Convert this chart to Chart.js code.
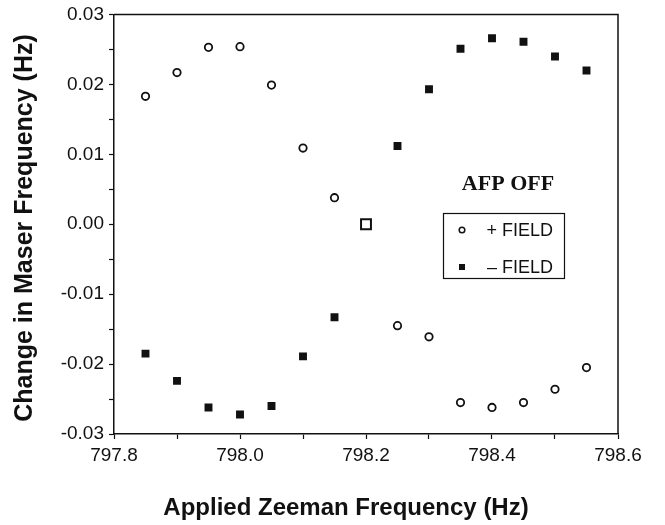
<!DOCTYPE html>
<html>
<head>
<meta charset="utf-8">
<script src="https://cdn.jsdelivr.net/npm/chart.js@4"></script>
<style>
  body { margin: 0; background: #fff; }
  #wrap { width: 665px; height: 525px; }
</style>
</head>
<body>
<div id="wrap"><canvas id="maserChart" width="665" height="525"></canvas></div>
<script>
// Applied Zeeman frequency (Hz) for each measurement
const zeemanHz = [797.85, 797.90, 797.95, 798.00, 798.05, 798.10, 798.15, 798.20,
                  798.25, 798.30, 798.35, 798.40, 798.45, 798.50, 798.55];
// Change in maser frequency (Hz), + field
const plusField = [0.0183, 0.0217, 0.0253, 0.0254, 0.0199, 0.0109, 0.0038, 0.0000,
                   -0.0145, -0.0161, -0.0255, -0.0262, -0.0255, -0.0236, -0.0205];
// Change in maser frequency (Hz), - field
const minusField = [-0.0185, -0.0224, -0.0262, -0.0272, -0.0260, -0.0189, -0.0133, 0.0000,
                    0.0112, 0.0193, 0.0251, 0.0266, 0.0261, 0.0240, 0.0220];
const seriesLabels = ['+ FIELD', '\u2013 FIELD'];
const xTitle = 'Applied Zeeman Frequency (Hz)';
const yTitle = 'Change in Maser Frequency (Hz)';
const noteText = 'AFP OFF';

const sans = '"Liberation Sans", Arial, Helvetica, sans-serif';
const serif = '"Liberation Serif", "Times New Roman", serif';

// the point where both series sit on zero is drawn as an open square
const sharedIdx = minusField.findIndex((v, i) => v === 0 && plusField[i] === 0);

// frame, axis titles, note and boxed legend
const decorations = {
  id: 'decorations',
  beforeDatasetsDraw(chart) {
    const { ctx, chartArea: a } = chart;
    ctx.save();
    ctx.strokeStyle = '#111';
    ctx.lineWidth = 1.5;
    ctx.beginPath();
    ctx.moveTo(a.left, a.top);
    ctx.lineTo(a.right, a.top);
    ctx.lineTo(a.right, a.bottom);
    ctx.stroke();
    ctx.restore();
  },
  afterDraw(chart) {
    const { ctx } = chart;
    ctx.save();
    ctx.fillStyle = '#111';

    // axis titles
    ctx.textAlign = 'center';
    ctx.textBaseline = 'alphabetic';
    ctx.font = 'bold 24px ' + sans;
    ctx.fillText(xTitle, 346, 515);
    ctx.font = 'bold 25px ' + sans;
    ctx.translate(32, 228);
    ctx.rotate(-Math.PI / 2);
    ctx.fillText(yTitle, 0, 0);
    ctx.setTransform(1, 0, 0, 1, 0, 0);

    // note
    ctx.font = 'bold 22px ' + serif;
    ctx.textBaseline = 'middle';
    ctx.fillText(noteText, 508, 184);

    // legend box
    ctx.strokeStyle = '#111';
    ctx.lineWidth = 1.2;
    ctx.strokeRect(443.5, 213.5, 121, 65);
    ctx.font = '18px ' + sans;
    ctx.textAlign = 'right';
    ctx.fillText(seriesLabels[0], 553, 231);
    ctx.fillText(seriesLabels[1], 553, 268);
    ctx.lineWidth = 1.5;
    ctx.beginPath();
    ctx.arc(462, 230, 2.8, 0, Math.PI * 2);
    ctx.stroke();
    ctx.fillRect(459, 264, 6, 6);
    ctx.restore();
  }
};

const ctx = document.getElementById('maserChart').getContext('2d');
new Chart(ctx, {
  type: 'scatter',
  data: {
    datasets: [{
      label: seriesLabels[0],
      data: zeemanHz.map((x, i) => ({ x: x, y: plusField[i] })),
      pointStyle: 'circle',
      pointRadius: 3.7,
      pointBorderWidth: 1.8,
      pointBorderColor: '#111',
      pointBackgroundColor: '#fff',
      order: 2
    }, {
      label: seriesLabels[1],
      data: zeemanHz.map((x, i) => ({ x: x, y: minusField[i] })),
      pointStyle: 'rect',
      pointRadius: zeemanHz.map((x, i) => i === sharedIdx ? 7 : 5.6),
      pointBorderWidth: zeemanHz.map((x, i) => i === sharedIdx ? 2 : 0),
      pointBorderColor: '#111',
      pointBackgroundColor: zeemanHz.map((x, i) => i === sharedIdx ? '#fff' : '#111'),
      order: 1
    }]
  },
  options: {
    responsive: false,
    animation: false,
    layout: { padding: { top: 14, right: 47, left: 0, bottom: 0 } },
    plugins: {
      legend: { display: false },
      tooltip: { enabled: false }
    },
    scales: {
      x: {
        type: 'linear',
        min: 797.8,
        max: 798.6,
        afterFit: scale => { scale.height = 91; },
        border: { display: true, color: '#111', width: 1.5 },
        grid: { drawOnChartArea: false, tickLength: 5, color: '#111', tickWidth: 1.2 },
        ticks: {
          stepSize: 0.1,
          padding: 7,
          color: '#111',
          font: { family: sans, size: 19, lineHeight: 1 },
          callback: v => Math.round(v * 10) % 2 === 0 ? v.toFixed(1) : ''
        }
      },
      y: {
        type: 'linear',
        min: -0.03,
        max: 0.03,
        afterFit: scale => { scale.width = 114; },
        border: { display: true, color: '#111', width: 1.5 },
        grid: { drawOnChartArea: false, tickLength: 5, color: '#111', tickWidth: 1.2 },
        ticks: {
          stepSize: 0.005,
          padding: 5,
          color: '#111',
          font: { family: sans, size: 19, lineHeight: 1 },
          callback: v => Math.round(v * 1000) % 10 === 0 ? v.toFixed(2) : ''
        }
      }
    }
  },
  plugins: [decorations]
});
</script>
</body>
</html>
